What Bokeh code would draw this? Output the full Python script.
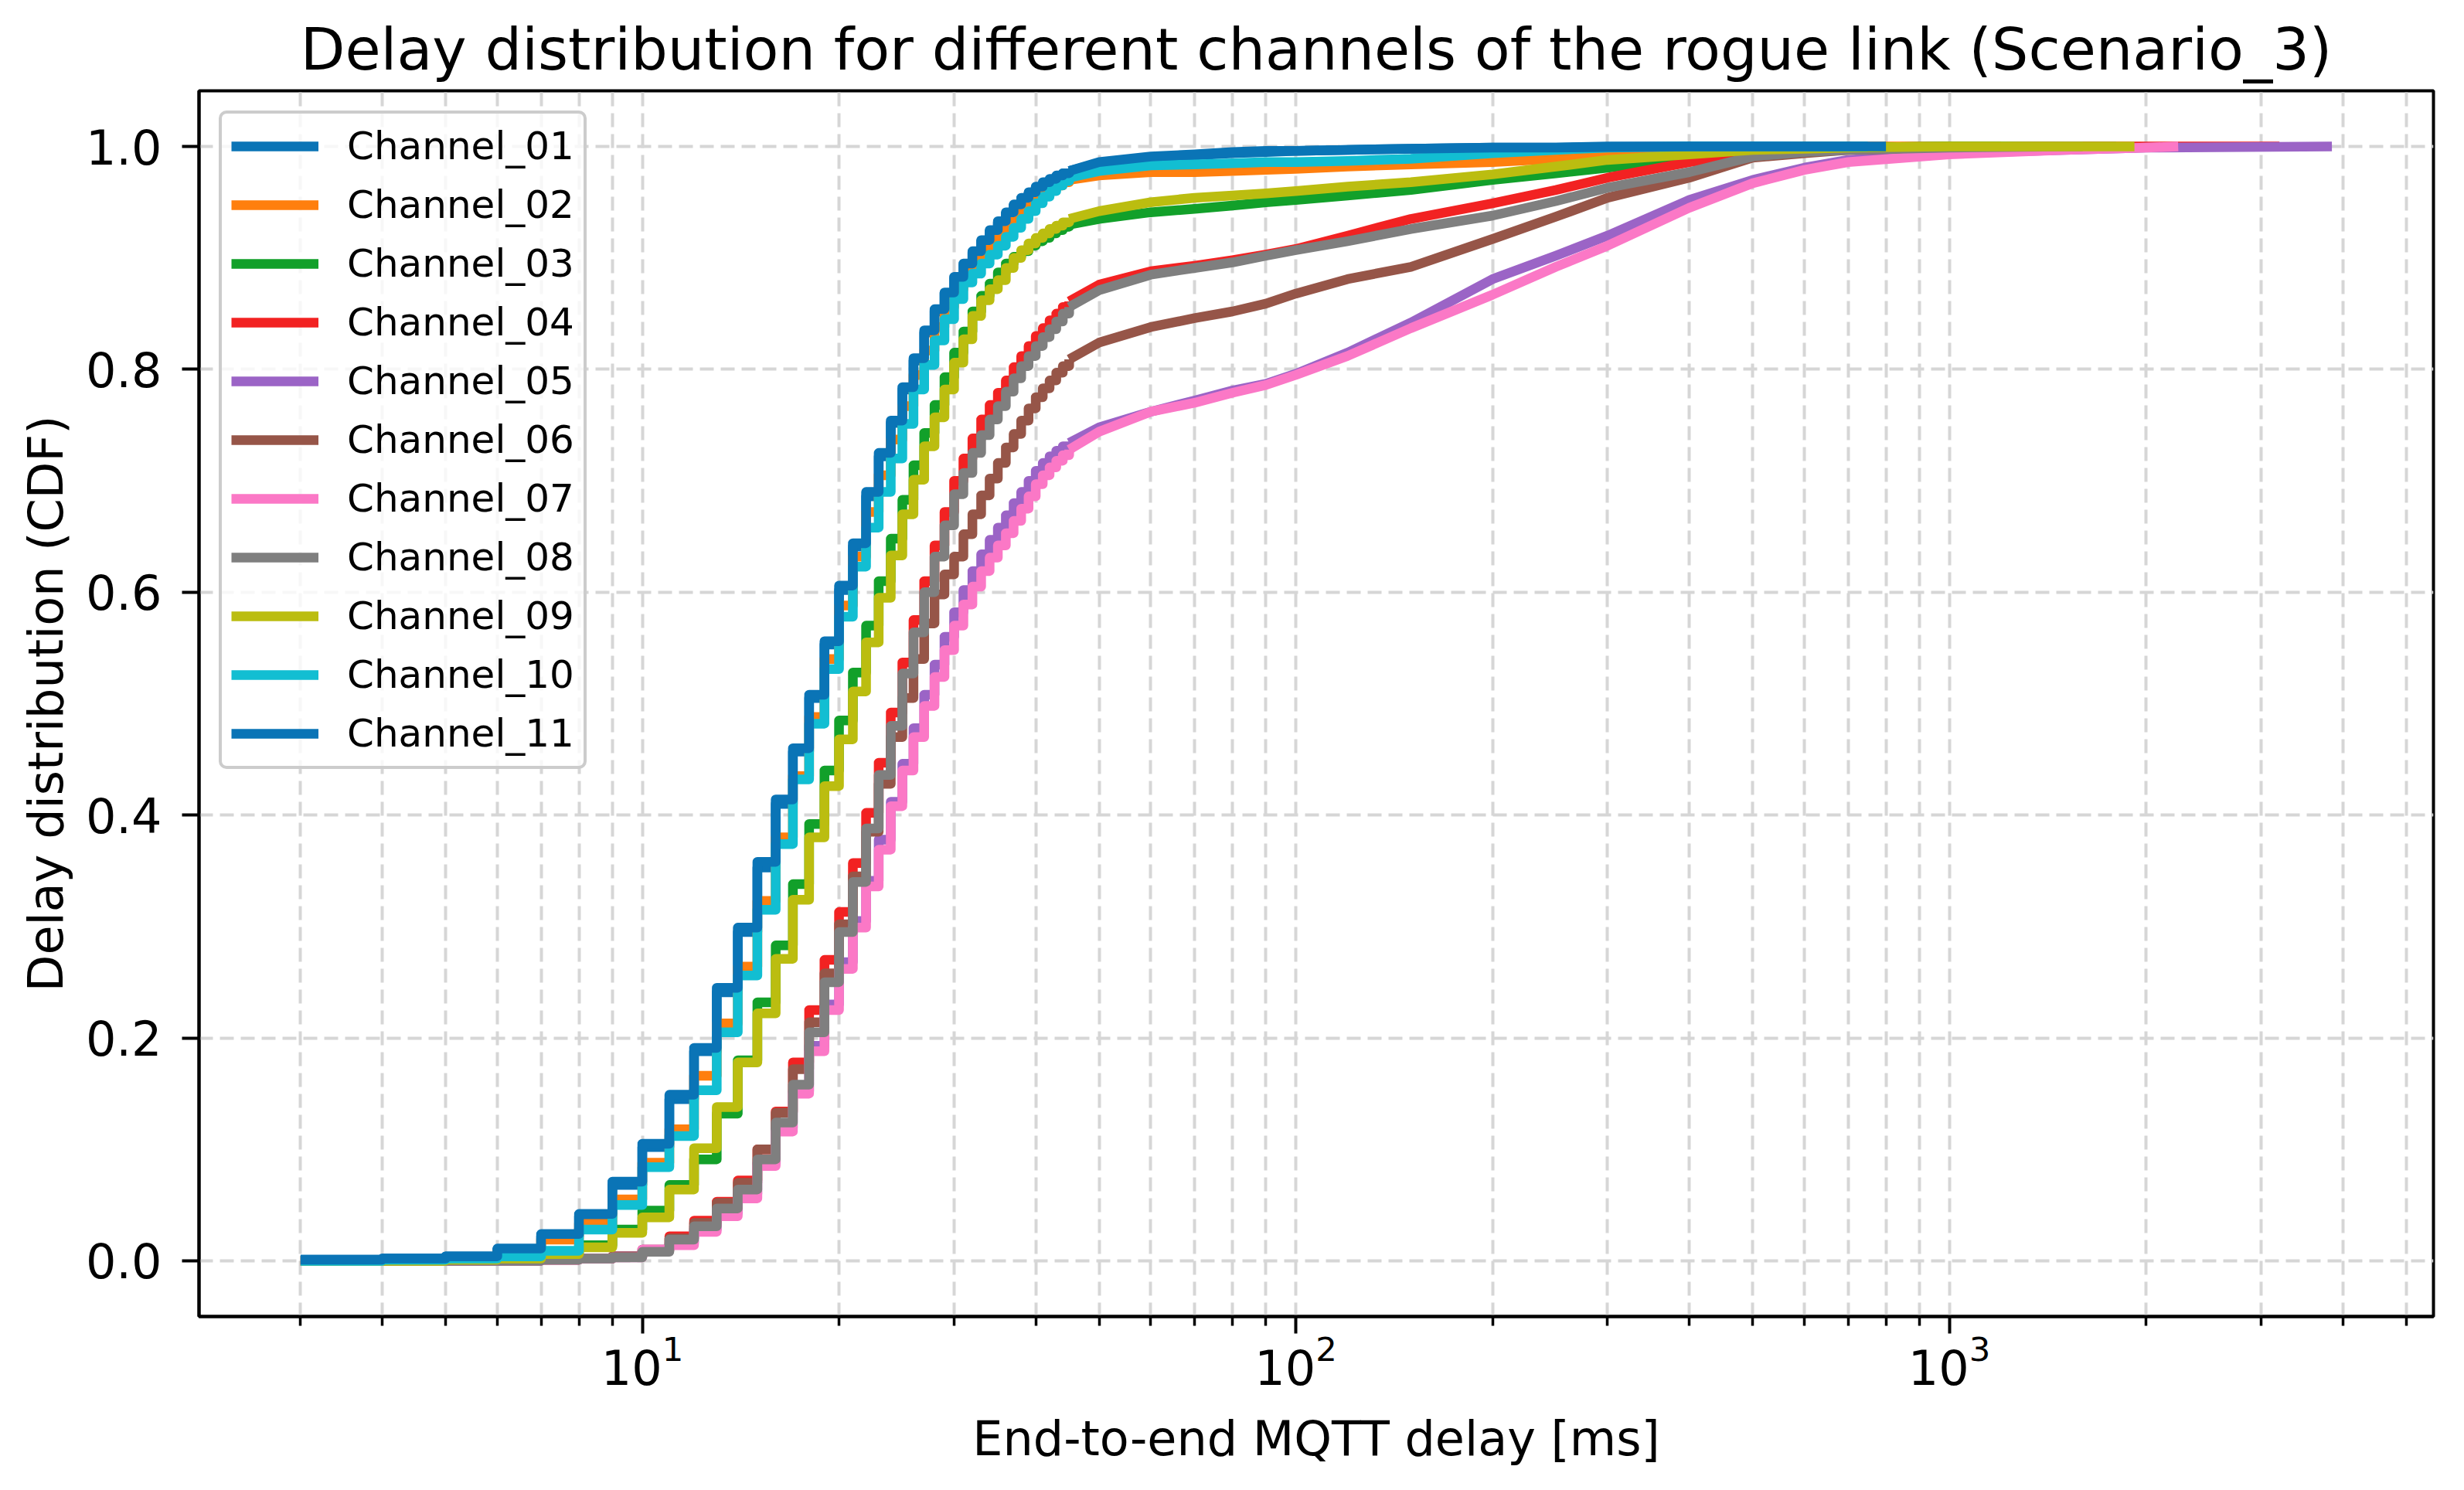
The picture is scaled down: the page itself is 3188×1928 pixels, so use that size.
import math
from bokeh.plotting import figure
from bokeh.models import Range1d, FixedTicker, NumeralTickFormatter, Legend, LegendItem
from bokeh.embed import file_html
from bokeh.resources import INLINE

TITLE = "Delay distribution for different channels of the rogue link (Scenario_3)"
X_LABEL = "End-to-end MQTT delay [ms]"
Y_LABEL = "Delay distribution (CDF)"

channels = ["Channel_01", "Channel_02", "Channel_03", "Channel_04", "Channel_05", "Channel_06",
            "Channel_07", "Channel_08", "Channel_09", "Channel_10", "Channel_11"]
colors = ["#0a74b6", "#ff7f0e", "#12a02a", "#f22222", "#9b64c6", "#965548",
          "#fb78c6", "#7f7f7f", "#bbbd10", "#12bed2", "#0a74b6"]

# integer delays (ms) where the empirical CDFs step
step_delays = list(range(3, 46))

cdf_ch01 = [0.001, 0.002, 0.004, 0.010, 0.022, 0.040, 0.068, 0.102, 0.145, 0.188, 0.241, 0.295, 0.353, 0.410,
            0.457, 0.505, 0.553, 0.602, 0.641, 0.686, 0.722, 0.752, 0.782, 0.808, 0.833, 0.852, 0.868, 0.882,
            0.894, 0.905, 0.915, 0.924, 0.932, 0.940, 0.947, 0.953, 0.958, 0.963, 0.967, 0.970, 0.973, 0.976, 0.978]
cdf_ch02 = [0.0, 0.001, 0.003, 0.008, 0.019, 0.033, 0.055, 0.088, 0.118, 0.166, 0.213, 0.264, 0.323, 0.380,
            0.435, 0.488, 0.540, 0.588, 0.632, 0.672, 0.705, 0.737, 0.767, 0.795, 0.817, 0.838, 0.856, 0.872,
            0.886, 0.897, 0.907, 0.916, 0.924, 0.931, 0.938, 0.944, 0.950, 0.955, 0.959, 0.962, 0.965, 0.968, 0.970]
cdf_ch03 = [0.0, 0.0, 0.001, 0.002, 0.006, 0.014, 0.028, 0.045, 0.068, 0.091, 0.132, 0.180, 0.232, 0.283,
            0.338, 0.392, 0.440, 0.485, 0.528, 0.570, 0.610, 0.648, 0.683, 0.714, 0.743, 0.768, 0.793, 0.815,
            0.834, 0.852, 0.866, 0.877, 0.887, 0.895, 0.901, 0.906, 0.911, 0.915, 0.918, 0.922, 0.925, 0.928, 0.930]
cdf_ch04 = [0.0, 0.0, 0.0, 0.001, 0.001, 0.002, 0.004, 0.010, 0.022, 0.036, 0.053, 0.072, 0.100, 0.134,
            0.178, 0.225, 0.270, 0.313, 0.357, 0.402, 0.447, 0.492, 0.537, 0.575, 0.610, 0.642, 0.672, 0.700,
            0.720, 0.738, 0.755, 0.768, 0.779, 0.790, 0.802, 0.812, 0.821, 0.830, 0.837, 0.844, 0.850, 0.856, 0.861]
cdf_ch05 = [0.0, 0.0, 0.0, 0.0, 0.001, 0.002, 0.004, 0.010, 0.016, 0.028, 0.043, 0.060, 0.088, 0.119,
            0.152, 0.193, 0.230, 0.268, 0.305, 0.341, 0.378, 0.412, 0.446, 0.478, 0.508, 0.535, 0.560, 0.582,
            0.602, 0.619, 0.634, 0.647, 0.658, 0.669, 0.680, 0.690, 0.700, 0.709, 0.716, 0.722, 0.727, 0.731, 0.734]
cdf_ch06 = [0.0, 0.0, 0.0, 0.0, 0.001, 0.002, 0.004, 0.009, 0.020, 0.034, 0.052, 0.070, 0.100, 0.133,
            0.172, 0.214, 0.258, 0.302, 0.345, 0.385, 0.428, 0.470, 0.505, 0.540, 0.572, 0.598, 0.616, 0.632,
            0.652, 0.670, 0.687, 0.702, 0.716, 0.730, 0.742, 0.754, 0.765, 0.775, 0.783, 0.790, 0.797, 0.803, 0.809]
cdf_ch07 = [0.0, 0.0, 0.0, 0.0, 0.001, 0.002, 0.003, 0.010, 0.014, 0.026, 0.040, 0.056, 0.085, 0.116,
            0.150, 0.188, 0.225, 0.262, 0.299, 0.336, 0.369, 0.408, 0.440, 0.470, 0.498, 0.524, 0.548, 0.570,
            0.589, 0.605, 0.619, 0.631, 0.642, 0.653, 0.664, 0.675, 0.686, 0.697, 0.705, 0.712, 0.718, 0.723, 0.728]
cdf_ch08 = [0.0, 0.0, 0.0, 0.0, 0.001, 0.002, 0.003, 0.008, 0.019, 0.031, 0.047, 0.064, 0.091, 0.124,
            0.158, 0.205, 0.250, 0.295, 0.340, 0.388, 0.436, 0.480, 0.527, 0.564, 0.600, 0.632, 0.660, 0.688,
            0.707, 0.725, 0.741, 0.755, 0.767, 0.780, 0.792, 0.803, 0.812, 0.821, 0.829, 0.836, 0.843, 0.850, 0.856]
cdf_ch09 = [0.0, 0.0, 0.001, 0.002, 0.006, 0.012, 0.025, 0.039, 0.064, 0.101, 0.138, 0.178, 0.222, 0.271,
            0.324, 0.380, 0.426, 0.468, 0.511, 0.555, 0.595, 0.633, 0.670, 0.701, 0.731, 0.757, 0.782, 0.806,
            0.827, 0.848, 0.862, 0.872, 0.880, 0.891, 0.900, 0.907, 0.913, 0.918, 0.922, 0.926, 0.929, 0.932, 0.935]
cdf_ch10 = [0.0, 0.001, 0.002, 0.004, 0.009, 0.028, 0.050, 0.084, 0.112, 0.153, 0.205, 0.256, 0.315, 0.374,
            0.432, 0.482, 0.531, 0.578, 0.623, 0.658, 0.690, 0.720, 0.751, 0.782, 0.804, 0.826, 0.845, 0.863,
            0.878, 0.886, 0.895, 0.903, 0.911, 0.919, 0.927, 0.935, 0.942, 0.949, 0.955, 0.960, 0.965, 0.969, 0.972]
cdf_ch11 = [0.001, 0.002, 0.004, 0.011, 0.024, 0.042, 0.071, 0.105, 0.149, 0.191, 0.245, 0.299, 0.358, 0.414,
            0.460, 0.508, 0.556, 0.606, 0.644, 0.690, 0.725, 0.754, 0.784, 0.810, 0.835, 0.854, 0.869, 0.883,
            0.895, 0.906, 0.916, 0.925, 0.933, 0.941, 0.948, 0.954, 0.959, 0.964, 0.968, 0.971, 0.974, 0.976, 0.978]

# longer delays (ms), where the CDFs look smooth
tail_delays = [50, 60, 70, 80, 90, 100, 120, 150, 200, 250, 300, 400, 500, 600, 700, 1000, 1500, 2000]

tail_ch01 = [0.985, 0.990, 0.992, 0.994, 0.995, 0.996, 0.997, 0.998, 0.999, 0.999, 1.0, 1.0, 1.0, 1.0, 1.0, 1.0, 1.0, 1.0]
tail_ch02 = [0.974, 0.977, 0.977, 0.978, 0.979, 0.980, 0.982, 0.984, 0.986, 0.989, 0.992, 0.996, 0.999, 1.0, 1.0, 1.0, 1.0, 1.0]
tail_ch03 = [0.935, 0.941, 0.944, 0.947, 0.950, 0.952, 0.956, 0.961, 0.970, 0.976, 0.981, 0.990, 0.994, 0.997, 0.999, 1.0, 1.0, 1.0]
tail_ch04 = [0.876, 0.888, 0.893, 0.898, 0.903, 0.908, 0.920, 0.935, 0.949, 0.961, 0.972, 0.986, 0.994, 0.997, 0.998, 0.999, 1.0, 1.0]
tail_ch05 = [0.748, 0.762, 0.772, 0.781, 0.787, 0.796, 0.815, 0.842, 0.881, 0.902, 0.920, 0.952, 0.970, 0.981, 0.988, 0.994, 0.997, 0.999]
tail_ch06 = [0.824, 0.838, 0.846, 0.852, 0.859, 0.868, 0.881, 0.892, 0.917, 0.937, 0.954, 0.972, 0.990, 0.994, 0.997, 0.999, 1.0, 1.0]
tail_ch07 = [0.744, 0.762, 0.770, 0.779, 0.786, 0.795, 0.812, 0.837, 0.867, 0.892, 0.911, 0.945, 0.967, 0.979, 0.986, 0.993, 0.997, 0.999]
tail_ch08 = [0.871, 0.885, 0.891, 0.896, 0.902, 0.907, 0.915, 0.926, 0.938, 0.951, 0.963, 0.977, 0.991, 0.995, 0.997, 0.999, 1.0, 1.0]
tail_ch09 = [0.942, 0.950, 0.954, 0.956, 0.958, 0.960, 0.964, 0.968, 0.975, 0.982, 0.988, 0.993, 0.997, 0.998, 0.999, 1.0, 1.0, 1.0]
tail_ch10 = [0.978, 0.983, 0.984, 0.985, 0.986, 0.986, 0.987, 0.989, 0.994, 0.997, 0.999, 1.0, 1.0, 1.0, 1.0, 1.0, 1.0, 1.0]
tail_ch11 = [0.986, 0.991, 0.993, 0.995, 0.996, 0.996, 0.997, 0.998, 0.999, 0.999, 0.9995, 1.0, 1.0, 1.0, 1.0, 1.0, 1.0, 1.0]

# largest observed delay per channel (ms)
max_delay = [750, 1200, 1500, 3200, 3850, 1800, 2240, 1600, 1920, 750, 800]

x_major_ticks = [10, 100, 1000]
x_minor_ticks = [2, 3, 4, 5, 6, 7, 8, 9, 20, 30, 40, 50, 60, 70, 80, 90,
                 200, 300, 400, 500, 600, 700, 800, 900, 2000, 3000, 4000, 5000]
y_ticks = [0.0, 0.2, 0.4, 0.6, 0.8, 1.0]

cdfs = [cdf_ch01, cdf_ch02, cdf_ch03, cdf_ch04, cdf_ch05, cdf_ch06,
        cdf_ch07, cdf_ch08, cdf_ch09, cdf_ch10, cdf_ch11]
tails = [tail_ch01, tail_ch02, tail_ch03, tail_ch04, tail_ch05, tail_ch06,
         tail_ch07, tail_ch08, tail_ch09, tail_ch10, tail_ch11]

# matplotlib-like 5% margins (x in log space)
lo = math.log10(min(step_delays))
hi = math.log10(max(max_delay))
pad = 0.05 * (hi - lo)
x_range = Range1d(10 ** (lo - pad), 10 ** (hi + pad))
y_range = Range1d(-0.05, 1.05)

FONT = "DejaVu Sans"
LW = 12.5

p = figure(x_axis_type="log", x_range=x_range, y_range=y_range,
           frame_width=2891, frame_height=1586,
           min_border_left=257, min_border_right=24, min_border_top=117, min_border_bottom=209,
           output_backend="svg", toolbar_location=None, title=TITLE,
           background_fill_color="white", border_fill_color="white")

p.title.text_font = FONT
p.title.text_font_size = "75px"
p.title.text_font_style = "normal"
p.title.text_color = "black"
p.title.align = "center"
p.title.standoff = 20

grid_color = "#d6d6d6"
for g in [p.xgrid[0], p.ygrid[0]]:
    g.grid_line_color = grid_color
    g.grid_line_width = 4
    g.grid_line_dash = "18 9"
p.xgrid.minor_grid_line_color = grid_color
p.xgrid.minor_grid_line_width = 4
p.xgrid.minor_grid_line_dash = "18 9"

p.xaxis.ticker = FixedTicker(ticks=x_major_ticks, minor_ticks=x_minor_ticks)
p.yaxis.ticker = FixedTicker(ticks=y_ticks)
p.yaxis.formatter = NumeralTickFormatter(format="0.0")
p.xaxis.axis_label = X_LABEL
p.yaxis.axis_label = Y_LABEL

for ax in [p.xaxis[0], p.yaxis[0]]:
    ax.axis_line_color = "black"
    ax.axis_line_width = 4
    ax.major_tick_line_color = "black"
    ax.major_tick_line_width = 4
    ax.major_tick_out = 22
    ax.major_tick_in = 0
    ax.minor_tick_line_color = "black"
    ax.minor_tick_line_width = 3.5
    ax.minor_tick_out = 12
    ax.minor_tick_in = 0
    ax.major_label_text_font = FONT
    ax.major_label_text_font_size = "62px"
    ax.major_label_text_color = "black"
    ax.axis_label_text_font = FONT
    ax.axis_label_text_font_size = "62px"
    ax.axis_label_text_font_style = "normal"
    ax.axis_label_text_color = "black"
p.yaxis.minor_tick_line_color = None
p.yaxis.major_label_standoff = 26
p.yaxis.axis_label_standoff = 12
p.xaxis.major_label_standoff = 0
p.xaxis.axis_label_standoff = 30

p.outline_line_color = "black"
p.outline_line_width = 4
p.outline_line_alpha = 1.0

items = []
for i in range(len(channels)):
    cdf = cdfs[i]
    p.step(step_delays, cdf, mode="after", line_color=colors[i], line_width=LW, line_join="round")
    tx = [step_delays[-1]] + [d for d in tail_delays if d < max_delay[i]] + [max_delay[i]]
    ty = [cdf[-1]] + [v for d, v in zip(tail_delays, tails[i]) if d < max_delay[i]] + [1.0]
    r = p.line(tx, ty, line_color=colors[i], line_width=LW, line_join="round")
    items.append(LegendItem(label=channels[i], renderers=[r]))

legend = Legend(items=items, location="top_left", margin=26, padding=12, spacing=16,
                glyph_width=113, glyph_height=60, label_height=60, label_standoff=37,
                label_text_font=FONT, label_text_font_size="50px", label_text_color="black",
                border_line_color="#cccccc", border_line_width=4, border_line_alpha=1.0,
                border_radius=10,
                background_fill_color="white", background_fill_alpha=0.8)
p.add_layout(legend)

with open("out.html", "w") as f:
    f.write(file_html(p, INLINE))
